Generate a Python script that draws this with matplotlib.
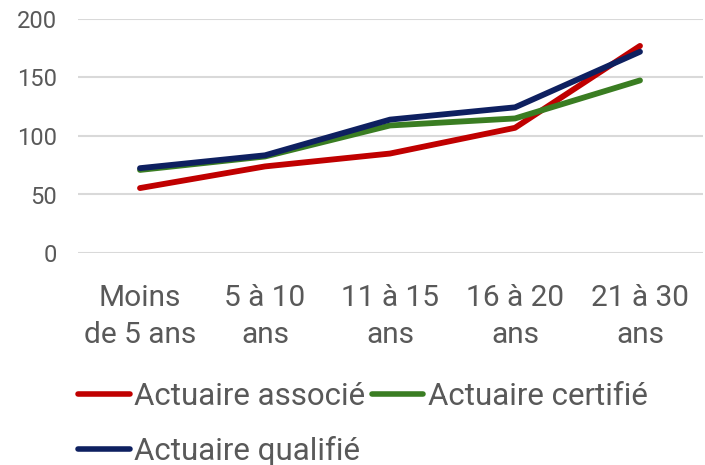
import matplotlib
matplotlib.use("Agg")
import matplotlib.pyplot as plt

categories = ["Moins\nde 5 ans", "5 à 10\nans", "11 à 15\nans", "16 à 20\nans", "21 à 30\nans"]
associe = [55.5, 74, 85, 107, 177]
certifie = [71, 82.5, 109, 115, 147.5]
qualifie = [72.5, 83.5, 114, 124.5, 172]
series_names = ["Actuaire associé", "Actuaire certifié", "Actuaire qualifié"]
colors = ["#C00000", "#3A7D22", "#0E2060"]
yticks = [0, 50, 100, 150, 200]

plt.rcParams['font.family'] = ['Roboto', 'DejaVu Sans']
txt = "#595959"

fig = plt.figure(figsize=(7.05, 4.65), dpi=100)
ax = fig.add_axes([77.5/705, 1-253/465, 625/705, (253-19)/465])

x = list(range(len(categories)))
lines = []
for vals, name, c in zip([associe, certifie, qualifie], series_names, colors):
    ln, = ax.plot(x, vals, color=c, lw=4.2, label=name, solid_capstyle='round', solid_joinstyle='round')
    lines.append(ln)

ax.set_xlim(-0.5, len(categories) - 0.5)
ax.set_ylim(0, 200)
ax.set_yticks(yticks)
ax.set_xticks(x)
ax.set_xticklabels(categories, fontsize=21.5, color=txt, linespacing=1.45)
ax.set_yticklabels([str(v) for v in yticks], fontsize=17, color=txt)
ax.tick_params(axis='both', length=0)
ax.tick_params(axis='x', pad=22)
ax.tick_params(axis='y', pad=15)
ax.grid(axis='y', color="#D9D9D9", lw=1.5)
ax.set_axisbelow(True)
for s in ax.spines.values():
    s.set_visible(False)

order = [0, 2, 1]
leg = fig.legend([lines[i] for i in order], [series_names[i] for i in order],
                 loc='upper left', bbox_to_anchor=(78/705, 1-382/465), ncol=2, frameon=False,
                 fontsize=22.5, handlelength=1.65, handletextpad=0.15, columnspacing=0.2,
                 labelspacing=0.8, borderaxespad=0, borderpad=0)
for t in leg.get_texts():
    t.set_color(txt)
for h in leg.get_lines():
    h.set_linewidth(4)
    h.set_solid_capstyle('round')

fig.savefig("out.png", dpi=100)
